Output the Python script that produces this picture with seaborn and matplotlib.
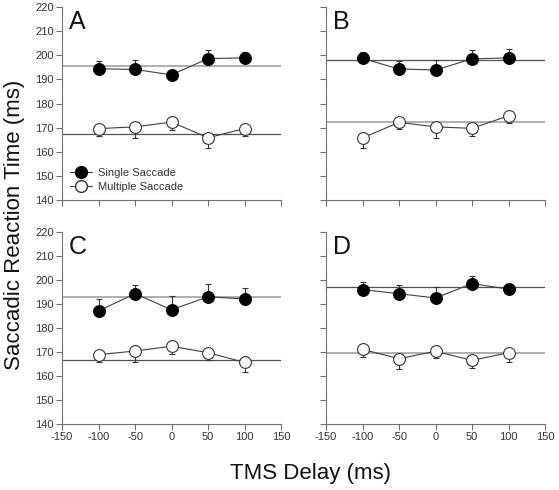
import numpy as np
import pandas as pd
import matplotlib
matplotlib.use("Agg")
import matplotlib.pyplot as plt
import seaborn as sns
from matplotlib.lines import Line2D

sns.set_theme(style="ticks")
plt.rcParams['font.family'] = ['Liberation Sans', 'DejaVu Sans']
plt.rcParams['axes.unicode_minus'] = False

delays = [-100, -50, 0, 50, 100]
panels = ["A", "B", "C", "D"]

single_A = [194.4, 194.1, 191.9, 198.6, 198.9]
single_A_err = [3.4, 4.1, 0.0, 3.4, 2.6]
multi_A = [169.6, 170.3, 172.3, 165.8, 169.6]
multi_A_err = [2.9, 4.5, 3.3, 4.4, 2.9]
base_A = [195.5, 167.5]

single_B = [198.7, 194.3, 193.9, 198.5, 198.9]
single_B_err = [2.5, 3.5, 4.1, 3.5, 3.7]
multi_B = [165.7, 172.2, 170.3, 169.7, 174.9]
multi_B_err = [4.0, 2.9, 4.5, 3.2, 2.9]
base_B = [197.9, 172.2]

single_C = [187.1, 194.3, 187.6, 193.0, 192.1]
single_C_err = [5.0, 3.7, 5.6, 5.3, 4.5]
multi_C = [168.9, 170.4, 172.4, 169.7, 165.7]
multi_C_err = [3.2, 4.6, 3.1, 2.9, 4.0]
base_C = [193.0, 166.7]

single_D = [196.0, 194.3, 192.5, 198.5, 196.2]
single_D_err = [3.3, 3.6, 4.7, 3.2, 0.5]
multi_D = [171.1, 167.2, 170.3, 166.5, 169.7]
multi_D_err = [3.2, 4.1, 2.8, 3.0, 3.9]
base_D = [196.9, 169.6]

data = {
    "A": (single_A, single_A_err, multi_A, multi_A_err, base_A),
    "B": (single_B, single_B_err, multi_B, multi_B_err, base_B),
    "C": (single_C, single_C_err, multi_C, multi_C_err, base_C),
    "D": (single_D, single_D_err, multi_D, multi_D_err, base_D),
}
# baseline line shade per panel (single, multiple)
base_colors = {"A": ("#a8a8a8", "#505050"), "B": ("#505050", "#a8a8a8"),
               "C": ("#a8a8a8", "#505050"), "D": ("#505050", "#a8a8a8")}

fig = plt.figure(figsize=(5.59, 4.90), dpi=100)
W, H = 559, 490
boxes = {"A": (62, 7, 281, 200), "B": (326, 7, 545, 200),
         "C": (62, 232, 281, 424), "D": (326, 232, 545, 424)}

MS = 8.5

for p in panels:
    x0, y0, x1, y1 = boxes[p]
    ax = fig.add_axes([x0 / W, 1 - y1 / H, (x1 - x0) / W, (y1 - y0) / H])
    s, se, m, me, base = data[p]
    bc = base_colors[p]
    ax.axhline(base[0], color=bc[0], lw=1.3 if bc[0] == "#a8a8a8" else 0.9, zorder=1)
    ax.axhline(base[1], color=bc[1], lw=1.3 if bc[1] == "#a8a8a8" else 0.9, zorder=1)

    ax.errorbar(delays, s, yerr=[np.zeros(5), se], fmt='none', ecolor='#333333',
                elinewidth=0.8, capsize=2.5, capthick=0.8, zorder=2)
    ax.errorbar(delays, m, yerr=[me, np.zeros(5)], fmt='none', ecolor='#333333',
                elinewidth=0.8, capsize=2.5, capthick=0.8, zorder=2)

    df = pd.DataFrame({"delay": delays * 2, "rt": s + m,
                       "cond": ["Single Saccade"] * 5 + ["Multiple Saccade"] * 5})
    sns.lineplot(data=df[df.cond == "Single Saccade"], x="delay", y="rt", ax=ax,
                 color="#404040", lw=0.8, marker="o", markersize=MS,
                 markerfacecolor="black", markeredgecolor="black", markeredgewidth=0.8,
                 zorder=3, legend=False)
    sns.lineplot(data=df[df.cond == "Multiple Saccade"], x="delay", y="rt", ax=ax,
                 color="#404040", lw=0.8, marker="o", markersize=MS,
                 markerfacecolor="white", markeredgecolor="#333333", markeredgewidth=0.8,
                 zorder=3, legend=False)

    ax.set_xlim(-150, 150)
    ax.set_ylim(140, 220)
    ax.set_xticks(range(-150, 151, 50))
    ax.set_yticks(range(140, 221, 10))
    ax.set_xlabel("")
    ax.set_ylabel("")
    sns.despine(ax=ax)
    for sp in ["left", "bottom"]:
        ax.spines[sp].set_color("#707070")
        ax.spines[sp].set_linewidth(0.8)
    ax.tick_params(axis="both", direction="out", length=4, width=0.8, color="#707070",
                   labelsize=8, labelcolor="#333333", pad=2)
    if p in ("B", "D"):
        ax.tick_params(axis="y", labelleft=False)
    if p in ("A", "B"):
        ax.tick_params(axis="x", labelbottom=False)
    ax.text(0.03, 0.985, p, transform=ax.transAxes, fontsize=18, va="top", ha="left",
            color="#111111")

    if p == "A":
        handles = [
            Line2D([], [], color="#404040", lw=0.8, marker="o", markersize=MS,
                   markerfacecolor="black", markeredgecolor="black"),
            Line2D([], [], color="#404040", lw=0.8, marker="o", markersize=MS,
                   markerfacecolor="white", markeredgecolor="#333333"),
        ]
        ax.legend(handles, ["Single Saccade", "Multiple Saccade"], loc="lower left",
                  bbox_to_anchor=(-0.01, -0.01), frameon=False, fontsize=8,
                  handlelength=2.0, handletextpad=0.5, labelspacing=0.35,
                  labelcolor="#333333")

fig.text(15 / W, 1 - 225 / H, "Saccadic Reaction Time (ms)", rotation=90,
         ha="center", va="center", fontsize=16, color="#111111")
fig.text(310 / W, 1 - 473 / H, "TMS Delay (ms)", ha="center", va="center",
         fontsize=16, color="#111111")

fig.savefig("out.png", dpi=100)
